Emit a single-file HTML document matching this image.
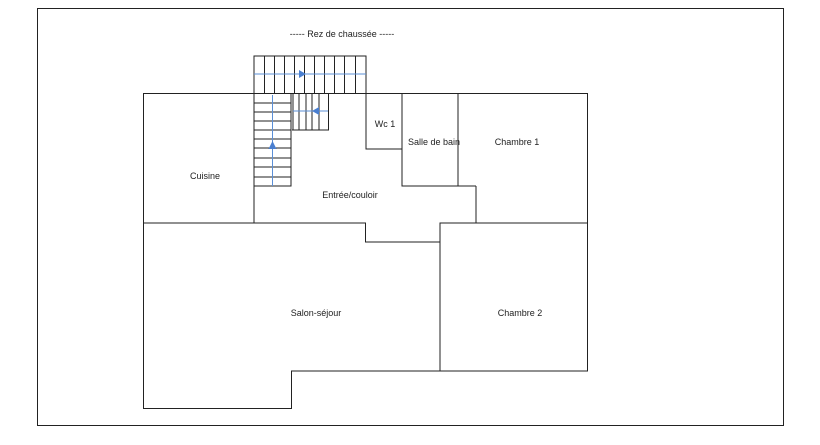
<!DOCTYPE html>
<html><head><style>body{margin:0;background:#fff}svg{display:block}text{font-family:"Liberation Sans","DejaVu Sans",sans-serif;font-size:9px;fill:#222}</style></head><body>
<svg width="820" height="445" viewBox="0 0 820 445" xmlns="http://www.w3.org/2000/svg">
<rect x="37.5" y="8.5" width="746" height="417" fill="none" stroke="#222" stroke-width="1"/>
<text x="342" y="37" text-anchor="middle">-----  Rez de chaussée  -----</text>
<g fill="none" stroke="#222" stroke-width="1">
<path d="M143.5 93.5H587.5V371H291.5V408.5H143.5Z"/>
<path d="M143.5 223H365.5V242H440V223H587.5"/>
<path d="M440 223V371"/>
<path d="M254 186V223M476 186V223"/>
<path d="M366 93V149H402"/>
<path d="M402 93V186H476"/>
<path d="M458 93V186"/>
<!-- top stair -->
<rect x="254" y="56" width="112" height="37.5"/>
<path d="M264.5 56V93M274.5 56V93M284.5 56V93M294.5 56V93M304.5 56V93M314.5 56V93M324.5 56V93M334.5 56V93M344.5 56V93M355.5 56V93"/>
<!-- left stair -->
<path d="M254 93V186H291V93"/>
<path d="M254 103H291M254 112H291M254 121H291M254 130H291M254 139H291M254 148H291M254 158H291M254 167H291M254 177H291"/>
<!-- middle stair -->
<path d="M292 130H328.5V93"/>
<path d="M293 93V130M299 93V130M306 93V130M312 93V130M319 93V130"/>
</g>
<g stroke="#5b8fd6" stroke-width="1" fill="#4a7fd0">
<path d="M254 74H366" fill="none"/>
<path d="M299 70L306 74L299 78Z" stroke="none"/>
<path d="M272.5 95V186" fill="none"/>
<path d="M268.5 149L272.5 141L276.5 149Z" stroke="none"/>
<path d="M293 111H328" fill="none"/>
<path d="M319 107L312 111L319 115Z" stroke="none"/>
</g>
<text x="205" y="179" text-anchor="middle">Cuisine</text>
<text x="385" y="127" text-anchor="middle">Wc 1</text>
<text x="434" y="145" text-anchor="middle">Salle de bain</text>
<text x="517" y="145" text-anchor="middle">Chambre 1</text>
<text x="350" y="198" text-anchor="middle">Entrée/couloir</text>
<text x="316" y="316" text-anchor="middle">Salon-séjour</text>
<text x="520" y="316" text-anchor="middle">Chambre 2</text>
</svg>
</body></html>
